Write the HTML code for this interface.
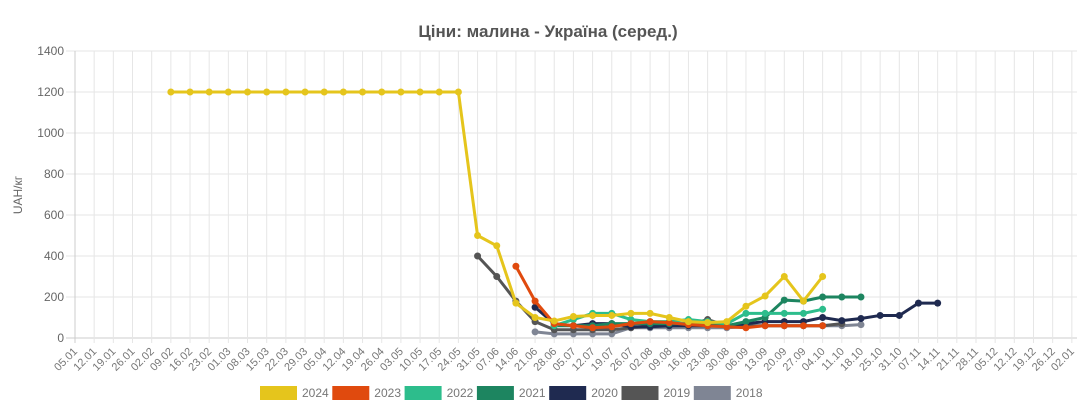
<!DOCTYPE html>
<html><head><meta charset="utf-8"><style>
body{margin:0;background:#fff;}
svg{display:block;font-family:"Liberation Sans",sans-serif;}
</style></head><body>
<svg id="c" width="1088" height="411" xmlns="http://www.w3.org/2000/svg">
<text x="548" y="37" text-anchor="middle" font-size="17" font-weight="bold" fill="#555">Ціни: малина - Україна (серед.)</text>
<text x="22" y="195" transform="rotate(-90 22 195)" text-anchor="middle" font-size="12" fill="#666">UAH/кг</text>
</svg>
<script>
const s=document.getElementById('c'),NS='http://www.w3.org/2000/svg';
function el(t,a,txt){const e=document.createElementNS(NS,t);for(const k in a)e.setAttribute(k,a[k]);if(txt!=null)e.textContent=txt;s.appendChild(e);return e;}
const X=i=>75+i*19.17, Y=v=>338-v*0.205;
for(let v=0;v<=1400;v+=200){el('line',{x1:66,x2:1077,y1:Y(v),y2:Y(v),stroke:v?'#e6e6e6':'#ccc'});el('text',{x:64,y:Y(v)+4,'text-anchor':'end','font-size':12,fill:'#666'},v);}
let d=new Date(2024,0,5,12);
for(let i=0;i<=52;i++){const x=X(i);el('line',{x1:x,x2:x,y1:51,y2:343,stroke:i?'#e6e6e6':'#ccc'});
const lab=String(d.getDate()).padStart(2,'0')+'.'+String(d.getMonth()+1).padStart(2,'0');
el('text',{x:x+3,y:352,'text-anchor':'end','font-size':11,fill:'#777',transform:`rotate(-45 ${x+3} 352)`},lab);
d.setDate(d.getDate()+(lab==='25.10'?6:7));}
const ser=[
['#7f8594',24,[30,20,20,20,20,50,50,50,50,50,50,55,60,60,60,60,60,65]],
['#555555',21,[400,300,180,80,40,40,40,40,50,60,60,65,90,60,60,60,60,60,60,70]],
['#1f2a50',24,[150,70,60,70,70,55,55,60,60,60,60,70,80,80,80,100,85,95,110,110,170,170]],
['#1d8560',25,[60,60,60,70,70,70,70,70,70,60,80,100,185,180,200,200,200]],
['#2dbd8c',25,[60,90,120,120,90,80,80,90,80,70,120,120,120,120,140]],
['#e04a0e',23,[350,180,70,60,50,55,70,80,75,65,60,55,50,60,60,60,60]],
['#e5c51c',5,[1200,1200,1200,1200,1200,1200,1200,1200,1200,1200,1200,1200,1200,1200,1200,1200,500,450,170,100,83,105,110,110,120,120,100,80,75,80,155,205,300,180,300]]];
for(const [c,st,v] of ser){el('polyline',{points:v.map((y,j)=>X(st+j)+','+Y(y)).join(' '),fill:'none',stroke:c,'stroke-width':3});
v.forEach((y,j)=>el('circle',{cx:X(st+j),cy:Y(y),r:3.5,fill:c}));}
const leg=[['2024','#e5c51c'],['2023','#e04a0e'],['2022','#2dbd8c'],['2021','#1d8560'],['2020','#1f2a50'],['2019','#555555'],['2018','#7f8594']];
leg.forEach(([t,c],i)=>{const x=260+i*72.3;el('rect',{x:x,y:386,width:37,height:14,fill:c});el('text',{x:x+42,y:397,'font-size':12,fill:'#777'},t);});
</script>
</body></html>
